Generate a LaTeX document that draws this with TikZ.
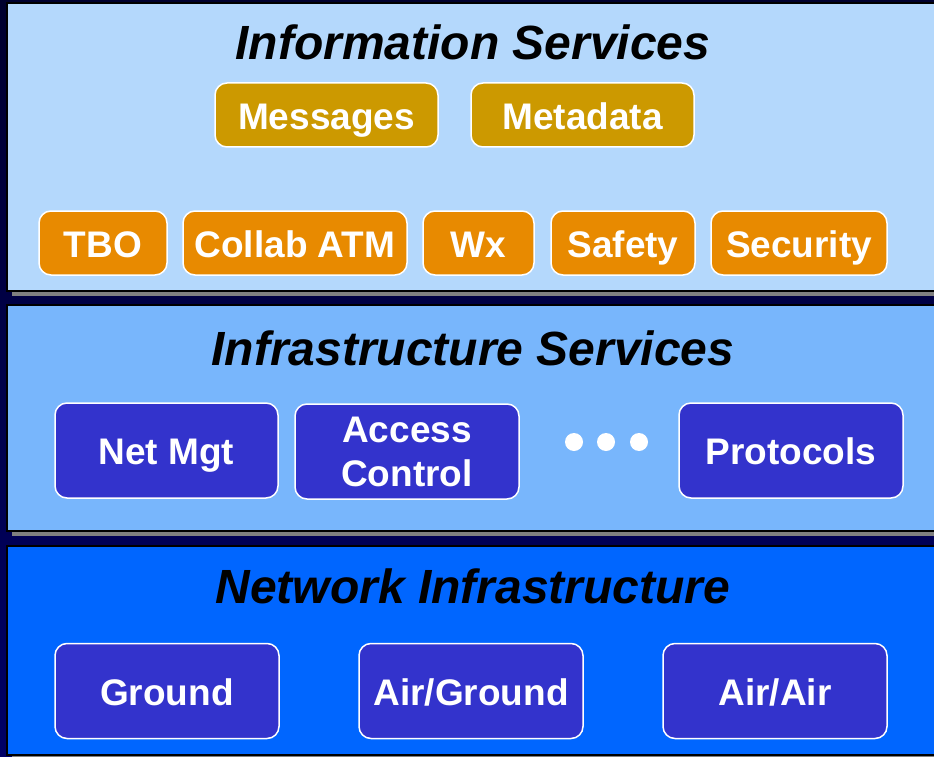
\documentclass[tikz,border=0pt]{standalone}
\usepackage{fontspec}
\setmainfont{Liberation Sans}
\definecolor{navytop}{HTML}{00002E}
\definecolor{navybot}{HTML}{000066}
\definecolor{infofill}{HTML}{B4D8FC}
\definecolor{infrafill}{HTML}{78B6FC}
\definecolor{netfill}{HTML}{0066FF}
\definecolor{goldbox}{HTML}{CC9900}
\definecolor{orangebox}{HTML}{E88A00}
\definecolor{purplebox}{HTML}{3333CC}
\definecolor{shadowgray}{HTML}{808080}

\begin{document}
\begin{tikzpicture}[x=1pt, y=-1pt,
	layertitle/.style={anchor=base, font=\fontsize{48}{52}\selectfont\bfseries\itshape, text=black},
	svcbox/.style={rectangle, rounded corners=12pt, draw=white, line width=1.5pt, inner sep=0pt,
		text=white, font=\fontsize{37}{44}\selectfont\bfseries, align=center},
	oneline/.style={svcbox, text height=28pt, text depth=0pt},
	smallbox/.style={oneline, minimum height=64pt},
	bigbox/.style={minimum height=95pt},
	layer/.style={draw=black, line width=2pt},
	dotmark/.style={fill=white, draw=none}
	]
	%%%%% background %%%%%
	\useasboundingbox (0,0) rectangle (934,757);
	\shade[top color=navytop, bottom color=navybot] (0,0) rectangle (934,757);
	
	%%%%% layers %%%%%
	\fill[shadowgray] (12,291) rectangle (940,296);
	\draw[layer, fill=infofill] (7,3) rectangle (940,291);
	
	\fill[shadowgray] (12,531) rectangle (940,536);
	\draw[layer, fill=infrafill] (7,305) rectangle (940,531);
	
	\fill[shadowgray] (12,755) rectangle (940,760);
	\draw[layer, fill=netfill] (7,546) rectangle (940,755);
	
	%%%%% Information Services %%%%%
	\node[layertitle] (infotitle) at (473,60) {Information Services};
	
	\node[smallbox, fill=goldbox, minimum width=223pt] (messages) at (326.5,115) {Messages};
	\node[smallbox, fill=goldbox, minimum width=223pt] (metadata) at (582.5,115) {Metadata};
	
	\node[smallbox, fill=orangebox, minimum width=128pt] (tbo) at (103,243) {TBO};
	\node[smallbox, fill=orangebox, minimum width=224pt] (collab) at (295,243) {Collab ATM};
	\node[smallbox, fill=orangebox, minimum width=111pt] (wx) at (478.5,243) {Wx};
	\node[smallbox, fill=orangebox, minimum width=144pt] (safety) at (623,243) {Safety};
	\node[smallbox, fill=orangebox, minimum width=176pt] (security) at (799,243) {Security};
	
	%%%%% Infrastructure Services %%%%%
	\node[layertitle] (infratitle) at (473,365) {Infrastructure Services};
	
	\node[oneline, bigbox, fill=purplebox, minimum width=223pt] (netmgt) at (166.5,450.5) {Net Mgt};
	\node[svcbox, bigbox, fill=purplebox, minimum width=224pt] (access) at (407,451.5) {Access\\Control};
	\node[oneline, bigbox, fill=purplebox, minimum width=224pt] (protocols) at (791,450.5) {Protocols};
	
	\foreach \dx in {574,606,639}
		\fill[dotmark] (\dx,442) circle (9);
	
	%%%%% Network Infrastructure %%%%%
	\node[layertitle] (nettitle) at (473,603) {Network Infrastructure};
	
	\node[oneline, bigbox, fill=purplebox, minimum width=224pt] (ground) at (167,691) {Ground};
	\node[oneline, bigbox, fill=purplebox, minimum width=224pt] (airground) at (471,691) {Air/Ground};
	\node[oneline, bigbox, fill=purplebox, minimum width=224pt] (airair) at (775,691) {Air/Air};
\end{tikzpicture}
\end{document}
